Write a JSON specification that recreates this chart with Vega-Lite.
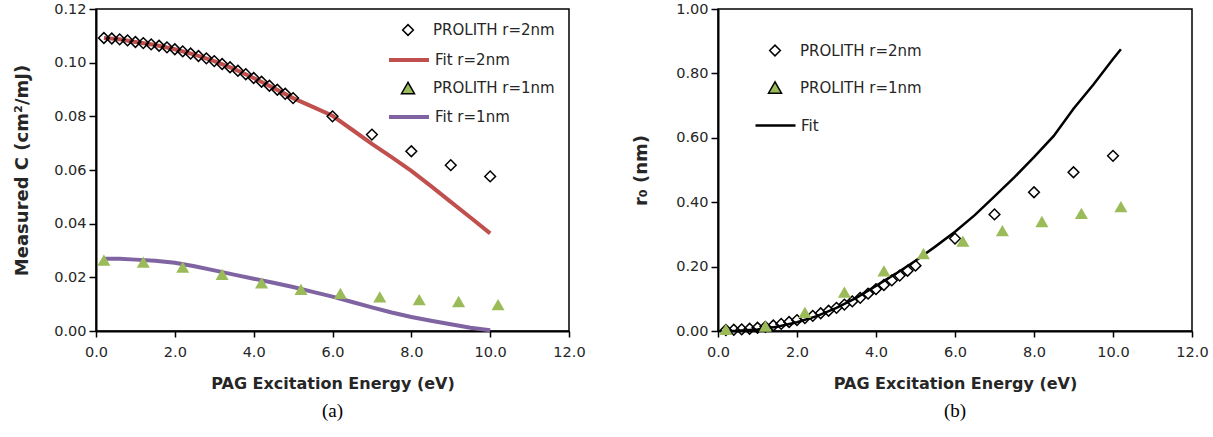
{
  "$schema": "https://vega.github.io/schema/vega-lite/v6.json",
  "background": "white",
  "padding": {"left": 12, "top": 0, "right": 0, "bottom": 0},
  "spacing": 45,
  "config": {
    "font": "DejaVu Sans",
    "view": {"stroke": "#000", "strokeWidth": 1.5},
    "axis": {"grid": false, "labelOverlap": false, "labelFlush": false, "domainColor": "#000", "domainWidth": 2, "tickColor": "#000", "tickWidth": 1.5, "labelColor": "#262626", "labelFont": "DejaVu Sans", "labelFontSize": 14.5, "titleColor": "#262626", "titleFont": "DejaVu Sans", "titleFontWeight": "bold"},
    "legend": {"padding": 0, "labelColor": "#262626", "labelFont": "DejaVu Sans", "labelFontSize": 15}
  },
  "resolve": {
    "scale": {"fill": "independent", "shape": "independent", "size": "independent", "strokeOpacity": "independent", "stroke": "independent"},
    "legend": {"fill": "independent", "shape": "independent", "size": "independent", "strokeOpacity": "independent", "stroke": "independent"}
  },
  "datasets": {
    "a": [
      {"x": 0.2, "y": 0.1092, "series": "PROLITH r=2nm"},
      {"x": 0.4, "y": 0.1090, "series": "PROLITH r=2nm"},
      {"x": 0.6, "y": 0.1087, "series": "PROLITH r=2nm"},
      {"x": 0.8, "y": 0.1083, "series": "PROLITH r=2nm"},
      {"x": 1.0, "y": 0.1077, "series": "PROLITH r=2nm"},
      {"x": 1.2, "y": 0.1073, "series": "PROLITH r=2nm"},
      {"x": 1.4, "y": 0.1068, "series": "PROLITH r=2nm"},
      {"x": 1.6, "y": 0.1063, "series": "PROLITH r=2nm"},
      {"x": 1.8, "y": 0.1057, "series": "PROLITH r=2nm"},
      {"x": 2.0, "y": 0.1050, "series": "PROLITH r=2nm"},
      {"x": 2.2, "y": 0.1042, "series": "PROLITH r=2nm"},
      {"x": 2.4, "y": 0.1034, "series": "PROLITH r=2nm"},
      {"x": 2.6, "y": 0.1025, "series": "PROLITH r=2nm"},
      {"x": 2.8, "y": 0.1016, "series": "PROLITH r=2nm"},
      {"x": 3.0, "y": 0.1006, "series": "PROLITH r=2nm"},
      {"x": 3.2, "y": 0.0995, "series": "PROLITH r=2nm"},
      {"x": 3.4, "y": 0.0983, "series": "PROLITH r=2nm"},
      {"x": 3.6, "y": 0.0970, "series": "PROLITH r=2nm"},
      {"x": 3.8, "y": 0.0957, "series": "PROLITH r=2nm"},
      {"x": 4.0, "y": 0.0943, "series": "PROLITH r=2nm"},
      {"x": 4.2, "y": 0.0929, "series": "PROLITH r=2nm"},
      {"x": 4.4, "y": 0.0914, "series": "PROLITH r=2nm"},
      {"x": 4.6, "y": 0.0899, "series": "PROLITH r=2nm"},
      {"x": 4.8, "y": 0.0884, "series": "PROLITH r=2nm"},
      {"x": 5.0, "y": 0.0868, "series": "PROLITH r=2nm"},
      {"x": 6.0, "y": 0.0800, "series": "PROLITH r=2nm"},
      {"x": 7.0, "y": 0.0732, "series": "PROLITH r=2nm"},
      {"x": 8.0, "y": 0.0670, "series": "PROLITH r=2nm"},
      {"x": 9.0, "y": 0.0618, "series": "PROLITH r=2nm"},
      {"x": 10.0, "y": 0.0576, "series": "PROLITH r=2nm"},
      {"x": 0.2, "y": 0.1092, "series": "Fit r=2nm"},
      {"x": 0.6, "y": 0.1087, "series": "Fit r=2nm"},
      {"x": 1.0, "y": 0.1077, "series": "Fit r=2nm"},
      {"x": 1.5, "y": 0.1066, "series": "Fit r=2nm"},
      {"x": 2.0, "y": 0.1050, "series": "Fit r=2nm"},
      {"x": 2.5, "y": 0.1030, "series": "Fit r=2nm"},
      {"x": 3.0, "y": 0.1006, "series": "Fit r=2nm"},
      {"x": 3.5, "y": 0.0977, "series": "Fit r=2nm"},
      {"x": 4.0, "y": 0.0943, "series": "Fit r=2nm"},
      {"x": 4.5, "y": 0.0906, "series": "Fit r=2nm"},
      {"x": 5.0, "y": 0.0868, "series": "Fit r=2nm"},
      {"x": 5.5, "y": 0.0835, "series": "Fit r=2nm"},
      {"x": 6.0, "y": 0.0802, "series": "Fit r=2nm"},
      {"x": 6.5, "y": 0.0750, "series": "Fit r=2nm"},
      {"x": 7.0, "y": 0.0697, "series": "Fit r=2nm"},
      {"x": 7.5, "y": 0.0648, "series": "Fit r=2nm"},
      {"x": 8.0, "y": 0.0597, "series": "Fit r=2nm"},
      {"x": 8.5, "y": 0.0540, "series": "Fit r=2nm"},
      {"x": 9.0, "y": 0.0481, "series": "Fit r=2nm"},
      {"x": 9.5, "y": 0.0423, "series": "Fit r=2nm"},
      {"x": 10.0, "y": 0.0364, "series": "Fit r=2nm"},
      {"x": 0.2, "y": 0.0264, "series": "PROLITH r=1nm"},
      {"x": 1.2, "y": 0.0257, "series": "PROLITH r=1nm"},
      {"x": 2.2, "y": 0.0238, "series": "PROLITH r=1nm"},
      {"x": 3.2, "y": 0.0211, "series": "PROLITH r=1nm"},
      {"x": 4.2, "y": 0.0179, "series": "PROLITH r=1nm"},
      {"x": 5.2, "y": 0.0155, "series": "PROLITH r=1nm"},
      {"x": 6.2, "y": 0.0140, "series": "PROLITH r=1nm"},
      {"x": 7.2, "y": 0.0127, "series": "PROLITH r=1nm"},
      {"x": 8.2, "y": 0.0117, "series": "PROLITH r=1nm"},
      {"x": 9.2, "y": 0.0110, "series": "PROLITH r=1nm"},
      {"x": 10.2, "y": 0.0098, "series": "PROLITH r=1nm"},
      {"x": 0.2, "y": 0.0269, "series": "Fit r=1nm"},
      {"x": 0.6, "y": 0.0269, "series": "Fit r=1nm"},
      {"x": 1.0, "y": 0.0266, "series": "Fit r=1nm"},
      {"x": 1.5, "y": 0.0262, "series": "Fit r=1nm"},
      {"x": 2.0, "y": 0.0254, "series": "Fit r=1nm"},
      {"x": 2.5, "y": 0.0241, "series": "Fit r=1nm"},
      {"x": 3.0, "y": 0.0226, "series": "Fit r=1nm"},
      {"x": 3.5, "y": 0.0210, "series": "Fit r=1nm"},
      {"x": 4.0, "y": 0.0195, "series": "Fit r=1nm"},
      {"x": 4.5, "y": 0.0180, "series": "Fit r=1nm"},
      {"x": 5.0, "y": 0.0164, "series": "Fit r=1nm"},
      {"x": 5.5, "y": 0.0146, "series": "Fit r=1nm"},
      {"x": 6.0, "y": 0.0128, "series": "Fit r=1nm"},
      {"x": 6.5, "y": 0.0108, "series": "Fit r=1nm"},
      {"x": 7.0, "y": 0.0088, "series": "Fit r=1nm"},
      {"x": 7.5, "y": 0.0069, "series": "Fit r=1nm"},
      {"x": 8.0, "y": 0.0052, "series": "Fit r=1nm"},
      {"x": 8.5, "y": 0.0038, "series": "Fit r=1nm"},
      {"x": 9.0, "y": 0.0025, "series": "Fit r=1nm"},
      {"x": 9.5, "y": 0.0012, "series": "Fit r=1nm"},
      {"x": 10.0, "y": 0.0003, "series": "Fit r=1nm"}
    ],
    "b": [
      {"x": 0.2, "y": 0.003, "series": "PROLITH r=2nm"},
      {"x": 0.4, "y": 0.004, "series": "PROLITH r=2nm"},
      {"x": 0.6, "y": 0.005, "series": "PROLITH r=2nm"},
      {"x": 0.8, "y": 0.007, "series": "PROLITH r=2nm"},
      {"x": 1.0, "y": 0.010, "series": "PROLITH r=2nm"},
      {"x": 1.2, "y": 0.013, "series": "PROLITH r=2nm"},
      {"x": 1.4, "y": 0.017, "series": "PROLITH r=2nm"},
      {"x": 1.6, "y": 0.022, "series": "PROLITH r=2nm"},
      {"x": 1.8, "y": 0.028, "series": "PROLITH r=2nm"},
      {"x": 2.0, "y": 0.034, "series": "PROLITH r=2nm"},
      {"x": 2.2, "y": 0.040, "series": "PROLITH r=2nm"},
      {"x": 2.4, "y": 0.047, "series": "PROLITH r=2nm"},
      {"x": 2.6, "y": 0.055, "series": "PROLITH r=2nm"},
      {"x": 2.8, "y": 0.063, "series": "PROLITH r=2nm"},
      {"x": 3.0, "y": 0.072, "series": "PROLITH r=2nm"},
      {"x": 3.2, "y": 0.082, "series": "PROLITH r=2nm"},
      {"x": 3.4, "y": 0.092, "series": "PROLITH r=2nm"},
      {"x": 3.6, "y": 0.103, "series": "PROLITH r=2nm"},
      {"x": 3.8, "y": 0.116, "series": "PROLITH r=2nm"},
      {"x": 4.0, "y": 0.130, "series": "PROLITH r=2nm"},
      {"x": 4.2, "y": 0.143, "series": "PROLITH r=2nm"},
      {"x": 4.4, "y": 0.157, "series": "PROLITH r=2nm"},
      {"x": 4.6, "y": 0.172, "series": "PROLITH r=2nm"},
      {"x": 4.8, "y": 0.187, "series": "PROLITH r=2nm"},
      {"x": 5.0, "y": 0.203, "series": "PROLITH r=2nm"},
      {"x": 6.0, "y": 0.287, "series": "PROLITH r=2nm"},
      {"x": 7.0, "y": 0.362, "series": "PROLITH r=2nm"},
      {"x": 8.0, "y": 0.431, "series": "PROLITH r=2nm"},
      {"x": 9.0, "y": 0.493, "series": "PROLITH r=2nm"},
      {"x": 10.0, "y": 0.544, "series": "PROLITH r=2nm"},
      {"x": 0.2, "y": 0.005, "series": "PROLITH r=1nm"},
      {"x": 1.2, "y": 0.015, "series": "PROLITH r=1nm"},
      {"x": 2.2, "y": 0.058, "series": "PROLITH r=1nm"},
      {"x": 3.2, "y": 0.121, "series": "PROLITH r=1nm"},
      {"x": 4.2, "y": 0.187, "series": "PROLITH r=1nm"},
      {"x": 5.2, "y": 0.240, "series": "PROLITH r=1nm"},
      {"x": 6.2, "y": 0.279, "series": "PROLITH r=1nm"},
      {"x": 7.2, "y": 0.312, "series": "PROLITH r=1nm"},
      {"x": 8.2, "y": 0.340, "series": "PROLITH r=1nm"},
      {"x": 9.2, "y": 0.365, "series": "PROLITH r=1nm"},
      {"x": 10.2, "y": 0.386, "series": "PROLITH r=1nm"},
      {"x": 0.2, "y": 0.000, "series": "Fit"},
      {"x": 0.5, "y": 0.001, "series": "Fit"},
      {"x": 1.0, "y": 0.005, "series": "Fit"},
      {"x": 1.5, "y": 0.013, "series": "Fit"},
      {"x": 2.0, "y": 0.027, "series": "Fit"},
      {"x": 2.5, "y": 0.046, "series": "Fit"},
      {"x": 3.0, "y": 0.072, "series": "Fit"},
      {"x": 3.5, "y": 0.103, "series": "Fit"},
      {"x": 4.0, "y": 0.140, "series": "Fit"},
      {"x": 4.5, "y": 0.178, "series": "Fit"},
      {"x": 5.0, "y": 0.218, "series": "Fit"},
      {"x": 5.5, "y": 0.262, "series": "Fit"},
      {"x": 6.0, "y": 0.308, "series": "Fit"},
      {"x": 6.5, "y": 0.360, "series": "Fit"},
      {"x": 7.0, "y": 0.418, "series": "Fit"},
      {"x": 7.5, "y": 0.477, "series": "Fit"},
      {"x": 8.0, "y": 0.540, "series": "Fit"},
      {"x": 8.5, "y": 0.606, "series": "Fit"},
      {"x": 9.0, "y": 0.690, "series": "Fit"},
      {"x": 9.5, "y": 0.765, "series": "Fit"},
      {"x": 10.0, "y": 0.845, "series": "Fit"},
      {"x": 10.2, "y": 0.875, "series": "Fit"}
    ]
  },
  "hconcat": [
    {
      "width": 473,
      "height": 322,
      "data": {"name": "a"},
      "title": {"text": "(a)", "orient": "bottom", "font": "Liberation Serif", "fontSize": 19, "fontWeight": "normal", "color": "#000", "offset": 10},
      "layer": [
        {
          "transform": [{"filter": "indexof(datum.series, 'Fit') == 0"}],
          "mark": {"type": "line", "strokeWidth": 4},
          "encoding": {
            "x": {"field": "x", "type": "quantitative", "scale": {"domain": [0, 12], "nice": false},
              "axis": {"values": [0, 2, 4, 6, 8, 10, 12], "format": ".1f", "tickSize": 6, "labelOverlap": false, "labelFlush": false,
                "title": "PAG Excitation Energy (eV)", "titleFontSize": 16, "labelPadding": 8, "titlePadding": 17}},
            "y": {"field": "y", "type": "quantitative", "scale": {"domain": [0, 0.12], "nice": false},
              "axis": {"values": [0, 0.02, 0.04, 0.06, 0.08, 0.1, 0.12], "format": ".2f", "tickSize": 7, "labelOverlap": false, "labelFlush": false,
                "title": "Measured C (cm²/mJ)", "titleFontSize": 18, "labelPadding": 3, "titlePadding": 22}},
            "stroke": {"field": "series", "type": "nominal",
              "scale": {"domain": ["Fit r=2nm", "Fit r=1nm"], "range": ["#c0504d", "#8064a2"]},
              "legend": {"title": null, "orient": "none", "legendX": 291, "legendY": 29, "symbolType": "stroke", "symbolSize": 1600, "symbolStrokeWidth": 4, "labelOffset": 4, "rowPadding": 27}}
          }
        },
        {
          "transform": [{"filter": "indexof(datum.series, 'PROLITH') == 0"}],
          "mark": {"type": "point", "filled": true, "stroke": "#000000", "strokeWidth": 1.5, "opacity": 1},
          "encoding": {
            "x": {"field": "x", "type": "quantitative"},
            "y": {"field": "y", "type": "quantitative"},
            "fill": {"field": "series", "type": "nominal",
              "scale": {"domain": ["PROLITH r=2nm", "PROLITH r=1nm"], "range": ["transparent", "#9bbb59"]},
              "legend": {"title": null, "orient": "none", "legendX": 304.5, "legendY": 13.5, "labelOffset": 17.5, "rowPadding": 40}},
            "shape": {"field": "series", "type": "nominal", "scale": {"domain": ["PROLITH r=2nm", "PROLITH r=1nm"], "range": ["diamond", "triangle-up"]}},
            "size": {"field": "series", "type": "nominal", "scale": {"domain": ["PROLITH r=2nm", "PROLITH r=1nm"], "range": [115, 170]}},
            "strokeOpacity": {"field": "series", "type": "nominal", "scale": {"domain": ["PROLITH r=2nm", "PROLITH r=1nm"], "range": [1, 0]}}
          }
        }
      ]
    },
    {
      "width": 474,
      "height": 322,
      "data": {"name": "b"},
      "title": {"text": "(b)", "orient": "bottom", "font": "Liberation Serif", "fontSize": 19, "fontWeight": "normal", "color": "#000", "offset": 10},
      "layer": [
        {
          "transform": [{"filter": "datum.series == 'Fit'"}],
          "mark": {"type": "line", "strokeWidth": 2.5},
          "encoding": {
            "x": {"field": "x", "type": "quantitative", "scale": {"domain": [0, 12], "nice": false},
              "axis": {"values": [0, 2, 4, 6, 8, 10, 12], "format": ".1f", "tickSize": 6, "labelOverlap": false, "labelFlush": false,
                "title": "PAG Excitation Energy (eV)", "titleFontSize": 16, "labelPadding": 8, "titlePadding": 17}},
            "y": {"field": "y", "type": "quantitative", "scale": {"domain": [0, 1], "nice": false},
              "axis": {"values": [0, 0.1, 0.2, 0.3, 0.4, 0.5, 0.6, 0.7, 0.8, 0.9, 1.0], "format": ".2f", "tickSize": 7, "labelOverlap": false, "labelFlush": false,
                "title": "r₀ (nm)", "titleFontSize": 18, "labelPadding": 3, "titlePadding": 25}},
            "stroke": {"field": "series", "type": "nominal",
              "scale": {"domain": ["Fit"], "range": ["#000000"]},
              "legend": {"title": null, "orient": "none", "legendX": 36, "legendY": 95, "symbolType": "stroke", "symbolSize": 1600, "symbolStrokeWidth": 2.5, "labelOffset": 4}}
          }
        },
        {
          "transform": [{"filter": "indexof(datum.series, 'PROLITH') == 0"}],
          "mark": {"type": "point", "filled": true, "stroke": "#000000", "strokeWidth": 1.5, "opacity": 1},
          "encoding": {
            "x": {"field": "x", "type": "quantitative"},
            "y": {"field": "y", "type": "quantitative"},
            "fill": {"field": "series", "type": "nominal",
              "scale": {"domain": ["PROLITH r=2nm", "PROLITH r=1nm"], "range": ["transparent", "#9bbb59"]},
              "legend": {"title": null, "orient": "none", "legendX": 49.5, "legendY": 34, "labelOffset": 17.5, "rowPadding": 19}},
            "shape": {"field": "series", "type": "nominal", "scale": {"domain": ["PROLITH r=2nm", "PROLITH r=1nm"], "range": ["diamond", "triangle-up"]}},
            "size": {"field": "series", "type": "nominal", "scale": {"domain": ["PROLITH r=2nm", "PROLITH r=1nm"], "range": [115, 170]}},
            "strokeOpacity": {"field": "series", "type": "nominal", "scale": {"domain": ["PROLITH r=2nm", "PROLITH r=1nm"], "range": [1, 0]}}
          }
        }
      ]
    }
  ]
}
